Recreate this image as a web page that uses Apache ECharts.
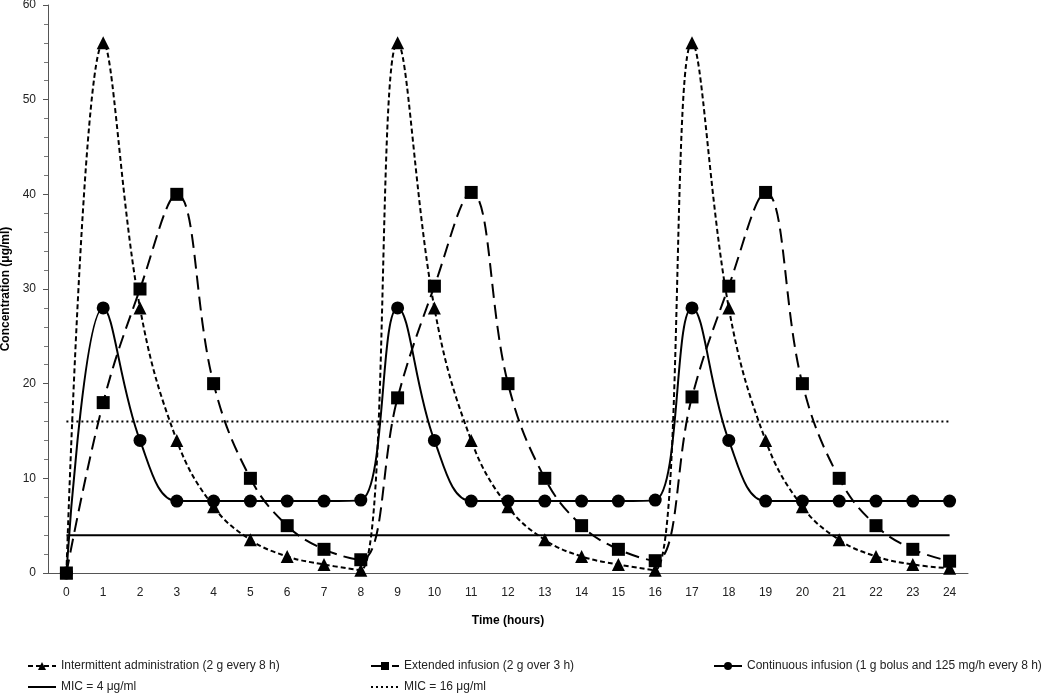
<!DOCTYPE html>
<html><head><meta charset="utf-8">
<script src="https://cdn.jsdelivr.net/npm/echarts@6/dist/echarts.min.js"></script>
<style>html,body{margin:0;padding:0;background:#fff}#c{width:1050px;height:693px}</style>
</head><body><div id="c"></div>
<script>
const hours = ['0','1','2','3','4','5','6','7','8','9','10','11','12','13','14','15','16','17','18','19','20','21','22','23','24'];
const intermittent = [0,56,28,14,7,3.5,1.75,0.9,0.3,56,28,14,7,3.5,1.75,0.9,0.3,56,28,14,7,3.5,1.75,0.9,0.5];
const extended = [0,18,30,40,20,10,5,2.5,1.4,18.5,30.3,40.2,20,10,5,2.5,1.3,18.6,30.3,40.2,20,10,5,2.5,1.25];
const continuous = [0,28,14,7.6,7.6,7.6,7.6,7.6,7.7,28,14,7.6,7.6,7.6,7.6,7.6,7.7,28,14,7.6,7.6,7.6,7.6,7.6,7.6];
const mic4 = hours.map(() => 4);
const mic16 = hours.map(() => 16);
const names = ['Intermittent administration (2 g every 8 h)','Extended infusion (2 g over 3 h)','Continuous infusion (1 g bolus and 125 mg/h every 8 h)','MIC = 4 μg/ml','MIC = 16 μg/ml'];

const font = "'Liberation Sans','Arial',sans-serif";
const chart = echarts.init(document.getElementById('c'));
const legendBase = {orient:'horizontal', itemWidth:28, itemHeight:10, itemGap:10, padding:0,
  textStyle:{fontFamily:font, fontSize:12, color:'#222'}};
const noMarker = {itemStyle:{color:'rgba(0,0,0,0)', borderWidth:0, opacity:0}};
chart.setOption({
  animation:false,
  textStyle:{fontFamily:font},
  grid:{left:48, right:82, top:5, bottom:120, containLabel:false, outerBoundsMode:'none'},
  legend:[
    Object.assign({}, legendBase, {data:[names[0]], left:27, top:660}),
    Object.assign({}, legendBase, {data:[names[1]], left:370, top:660}),
    Object.assign({}, legendBase, {data:[names[2]], left:713, top:660}),
    Object.assign({}, legendBase, noMarker, {data:[names[3]], left:27, top:681}),
    Object.assign({}, legendBase, noMarker, {data:[names[4]], left:370, top:681})
  ],
  xAxis:{type:'category', data:hours, boundaryGap:true,
    name:'Time (hours)', nameLocation:'middle', nameGap:42,
    nameTextStyle:{fontWeight:'bold', fontSize:12, color:'#000', fontFamily:font},
    axisLine:{lineStyle:{color:'#555', width:1}},
    axisTick:{alignWithLabel:true, length:5, lineStyle:{color:'#555'}},
    axisLabel:{fontSize:12, color:'#222', margin:14, interval:0, fontFamily:font},
    splitLine:{show:false}},
  yAxis:{type:'value', min:0, max:60, interval:10,
    name:'Concentration (μg/ml)', nameLocation:'middle', nameGap:34, nameRotate:90,
    nameTextStyle:{fontWeight:'bold', fontSize:12, color:'#000', fontFamily:font},
    axisLine:{show:true, lineStyle:{color:'#555', width:1}},
    axisTick:{show:true, length:5, lineStyle:{color:'#555'}},
    minorTick:{show:true, splitNumber:5, length:4, lineStyle:{color:'#777'}},
    axisLabel:{fontSize:12, color:'#222', margin:12, fontFamily:font},
    splitLine:{show:false}},
  series:[
    {name:names[0], type:'line', data:intermittent, smooth:0.4, symbol:'triangle', symbolSize:13,
      itemStyle:{color:'#000'}, lineStyle:{color:'#000', width:2, type:[5,3]}, z:3},
    {name:names[1], type:'line', data:extended, smooth:0.4, symbol:'rect', symbolSize:13,
      itemStyle:{color:'#000'}, lineStyle:{color:'#000', width:2, type:[14,7]}, z:3},
    {name:names[2], type:'line', data:continuous, smooth:0.4, symbol:'circle', symbolSize:13,
      itemStyle:{color:'#000'}, lineStyle:{color:'#000', width:2, type:'solid'}, z:3},
    {name:names[3], type:'line', data:mic4, symbol:'none', showSymbol:false,
      itemStyle:{color:'#000'}, lineStyle:{color:'#000', width:2, type:'solid'}, z:2},
    {name:names[4], type:'line', data:mic16, symbol:'none', showSymbol:false,
      itemStyle:{color:'#000'}, lineStyle:{color:'#000', width:2, type:[2,3]}, z:2}
  ]
});
</script></body></html>
